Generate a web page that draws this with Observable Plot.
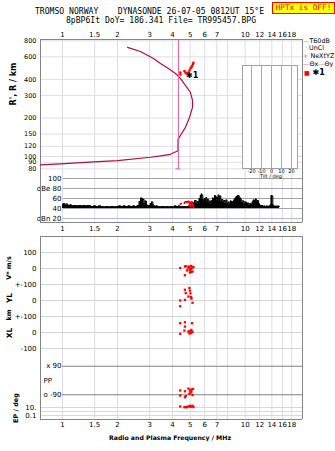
<!DOCTYPE html>
<html><head><meta charset="utf-8">
<script src="https://cdn.jsdelivr.net/npm/d3@7"></script>
<script src="https://cdn.jsdelivr.net/npm/@observablehq/plot@0.6"></script>
<style>
html,body{margin:0;padding:0;background:#fff;}
#root{position:relative;width:335px;height:451px;overflow:hidden;background:#fff;font-family:"DejaVu Sans",sans-serif;color:#000;}
.abs{position:absolute;white-space:nowrap;}
.rot{position:absolute;white-space:nowrap;transform:translate(-50%,-50%) rotate(-90deg);}
svg{display:block;}
</style></head><body>
<div id="root">
  <div class="abs" style="left:35px;top:6px;font:8.1px 'DejaVu Sans Mono',monospace;">TROMSO NORWAY&nbsp;&nbsp;&nbsp;&nbsp;DYNASONDE 26-07-05 0812UT 15°E</div>
  <div class="abs" style="left:66px;top:15px;font:8.1px 'DejaVu Sans Mono',monospace;">8pBP6It DoY= 186.341 File= TR995457.BPG</div>
  <div class="abs" style="left:272px;top:2px;width:61px;height:10px;background:#ffff00;border:1px solid #ff0000;color:#ff0000;font:7.7px 'DejaVu Sans Mono',monospace;line-height:10px;text-align:center;">HPTx is OFF!</div>
  <div id="top" class="abs" style="left:0;top:0"></div>
  <div id="db" class="abs" style="left:0;top:172px"></div>
  <div id="low" class="abs" style="left:0;top:234px"></div>
  <div id="inset" class="abs" style="left:0;top:0"></div>
  <div id="legend"></div>
  <div id="labels"></div>
</div>
<script>
// ---------- data ----------
const freqTicks = [1, 1.5, 2, 3, 4, 5, 6, 7, 8, 10, 12, 14, 16, 18];
const rangeTicks = [80, 90, 100, 120, 150, 200, 300, 400, 600, 800];

// model profile trace (frequency MHz, range km)
const profF = [2.27, 2.67, 3.15, 3.44, 3.80, 4.155, 4.42, 4.71, 5.02, 5.15, 5.15, 4.96, 4.71, 4.42, 4.29, 4.29, 3.90, 3.44, 3.03, 2.0, 1.48, 0.975, 0.758];
const profR = [711, 661, 583, 533, 487, 445, 407, 359, 316, 274, 242, 202, 169, 146, 136, 111, 104, 101, 98.7, 93, 90.9, 87.7, 85.9];

// echoes of class *1
const echoF = [4.42, 4.42, 4.65, 4.71, 4.77, 4.83, 4.90, 4.96, 5.02, 5.08, 5.12, 5.18, 5.21];
const echoR = [453, 437, 465, 453, 445, 445, 453, 470, 487, 497, 510, 527, 540];

// NeXtYZ marker
const markF = 4.31;
const markR = [820, 80];

// amplitude trace (dB)
const dbF = [1.00,1.02,1.04,1.06,1.08,1.11,1.14,1.17,1.20,1.24,1.28,1.32,1.36,1.40,1.45,1.50,1.55,1.60,1.65,1.70,1.76,1.82,1.88,1.94,2.00,2.06,2.12,2.18,2.25,2.32,2.39,2.46,2.53,2.60,2.66,2.70,2.74,2.78,2.82,2.86,2.90,2.95,3.00,3.05,3.10,3.15,3.20,3.28,3.36,3.45,3.55,3.65,3.75,3.85,3.95,4.05,4.15,4.25,4.35,4.45,4.55,4.65,4.75,4.85,4.95,5.05,5.15,5.25,5.35,5.45,5.55,5.65,5.72,5.78,5.84,5.90,5.96,6.02,6.08,6.14,6.20,6.28,6.36,6.44,6.52,6.60,6.68,6.76,6.84,6.92,7.00,7.08,7.16,7.24,7.32,7.40,7.50,7.60,7.70,7.80,7.90,8.00,8.12,8.24,8.36,8.48,8.60,8.72,8.84,8.96,9.08,9.20,9.32,9.44,9.56,9.68,9.80,9.95,10.1,10.25,10.4,10.55,10.7,10.85,11.0,11.15,11.3,11.45,11.6,11.75,11.9,12.05,12.2,12.4,12.6,12.8,13.0,13.2,13.4,13.6,13.8,13.95,14.1,14.25,14.4,14.6,14.8,15.0,15.2,15.4];
const dbV = [48,50,47,49,46,47,45,46,45,46,45,46,45,46,44,45,44,45,44,43,44,43,44,43,44,45,44,45,44,45,44,45,44,46,54,61,60,58,50,55,47,45,46,50,53,47,44,45,44,43,44,43,44,43,44,43,45,44,45,44,43,44,43,44,45,44,47,52,56,50,54,60,66,69,66,58,54,60,55,62,52,58,51,55,48,56,61,58,66,59,63,55,67,60,65,54,58,52,56,50,57,49,53,47,55,51,54,57,60,63,65,66,63,60,57,52,55,49,53,47,51,46,50,48,53,57,55,59,52,56,50,47,45,46,44,45,44,45,43,45,47,66,65,47,45,44,45,44,45,44];
const dbFloor = 40;
const dbRedF = [4.42, 4.47, 4.65, 4.70, 4.80, 4.90, 4.95, 4.98, 5.02, 5.06, 5.12, 5.18, 5.22];
const dbRedV = [49, 50, 51, 53, 53, 54, 53, 47, 44, 52, 53, 46, 43];
const dbRedSeg = [0, 0, 1, 1, 1, 1, 1, 1, 1, 1, 1, 1, 1];
const dbTicks = [100, 80, 60, 40, 20];
const dbTickText = ["100", "dBe 80", "60", "40", "dBn 20"];

// lower panel values, each in its own units
const vF = [4.41, 4.68, 4.68, 4.80, 4.89, 4.89, 4.98, 4.98, 5.06, 5.06, 5.15, 5.15, 4.98, 5.06, 4.73, 5.21];
const vV = [3, 12, -42, -12, 12, 0, 9, -12, -3, 16, 6, -19, -25, -22, 15, 10];
const ylF = [4.68, 4.73, 4.98, 4.89, 5.06, 5.15, 4.41, 4.41, 4.68, 5.02, 5.08, 4.95];
const ylV = [67, 46, 62, 25, 21, -14, 0, -36, 4, 44, 12, 78];
const xlF = [4.41, 4.68, 5.12, 4.68, 4.65, 4.41, 4.89, 4.98, 5.06, 5.15, 4.95, 5.08, 5.02];
const xlV = [58, 64, 58, 37, 12, -8, 6, 9, 0, 3, -6, 16, -4];
const ppF = [4.41, 4.68, 4.89, 4.98, 5.06, 5.18, 5.02, 4.95, 5.15, 4.41, 4.68, 4.73, 5.08];
const ppV = [-63, -68, -51, -63, -57, -54, -76, -85, -92, -95, -106, -98, -70];
const epF = [4.41, 4.65, 4.73, 4.89, 4.98, 5.06, 5.15, 5.21, 4.80, 5.02];
const epV = [18, 12, 13, 18, 26, 18, 28, 13, 12, 15];

const vTicks = [100, 0, -100];       // V* m/s
const ylTicks = [0, -100];           // YL km (shown ±100 above and below)
const xlTicks = [0, -100];
const ppTicks = [90, -90];
const epTicks = [10, 1, 0.1];

const tiltTicks = [-20, -10, 0, 10, 20];

// ---------- layout ----------
const W = 335, ML = 40, MR = 33;
const xDom = [0.758, 20.6];
const FONT = "DejaVu Sans, sans-serif";
const gridV = "#dcdcec", gridH = "#dedede", frameC = "#858585";
const xScale = (axis, pad) => ({type: "log", domain: xDom, axis, ticks: freqTicks, tickFormat: d => String(d), tickSize: 0, tickPadding: pad, label: null});

// lower panel lanes are stacked on one vertical axis
const laneV = v => v;
const laneYL = v => v - 200;
const laneXL = v => v - 400;
const lanePP = v => -700 + v * 0.99;
const laneEP = v => -893.75 + 25 * Math.log10(v);

// ---------- top panel ----------
const prof = profF.map((f, i) => ({f, r: profR[i]}));
const echoes = echoF.map((f, i) => ({f, r: echoR[i]}));
const rDom = [75, 820];
const topPlot = Plot.plot({
  width: W, height: 172, marginTop: 39, marginBottom: 0, marginLeft: ML, marginRight: MR,
  style: {background: "transparent", fontFamily: FONT, fontSize: "7px", color: "#000"},
  x: xScale("top", 3),
  y: {type: "log", domain: rDom, ticks: rangeTicks, tickFormat: d => String(d), tickSize: 0, tickPadding: 4, label: null},
  marks: [
    Plot.ruleX(freqTicks, {stroke: gridV}),
    Plot.ruleY(rangeTicks, {stroke: gridH}),
    Plot.ruleX(xDom, {stroke: frameC}),
    Plot.ruleY([rDom[1]], {stroke: frameC}),
    Plot.line(prof, {x: "f", y: "r", stroke: "#b0103c", strokeWidth: 1.2}),
    Plot.ruleX([markF], {y1: () => markR[0], y2: () => markR[1], stroke: "#e8559a"}),
    Plot.ruleY(markR, {x1: () => markF / 1.03, x2: () => markF * 1.03, stroke: "#e8559a"}),
    Plot.dot(echoes, {x: "f", y: "r", symbol: "square", r: 1.3, fill: "#ff0000", stroke: "none"}),
    Plot.text(["✱1"], {x: () => 4.75, y: () => 430, text: d => d, textAnchor: "start", fontSize: 8, fontWeight: "bold", fill: "#000"})
  ]
});
topPlot.querySelectorAll('g[aria-label="y-axis tick label"] text, g[aria-label="y-axis"] text').forEach(t => t.setAttribute("font-size", "6.5"));
document.getElementById("top").appendChild(topPlot);

// ---------- dB panel ----------
const dbData = dbF.map((f, i) => ({f, v: dbV[i]}));
const dbRed = dbRedF.map((f, i) => ({f, v: dbRedV[i], s: dbRedSeg[i]}));
const dbDom = [12, 112];
const dbPlot = Plot.plot({
  width: W, height: 62, marginTop: 0, marginBottom: 12, marginLeft: ML, marginRight: MR,
  style: {background: "transparent", fontFamily: FONT, fontSize: "7px", color: "#000"},
  x: xScale("bottom", 4),
  y: {domain: dbDom, axis: null},
  marks: [
    Plot.ruleX(freqTicks, {stroke: gridV}),
    Plot.ruleY(dbTicks, {x1: () => 1.01, x2: () => xDom[1], stroke: d => d === 20 ? "#b8b8e4" : "#a4a4a4"}),
    Plot.areaY(dbData, {x: "f", y1: () => dbFloor, y2: "v", curve: "step", fill: "#000"}),
    Plot.line(dbData, {x: "f", y: "v", curve: "step", stroke: "#000", strokeWidth: 1}),
    Plot.line(dbRed, {x: "f", y: "v", z: "s", stroke: "#ff0000", strokeWidth: 2}),
    Plot.text(dbTicks, {x: () => 1.0, y: d => d, text: (d, i) => dbTickText[i], textAnchor: "end", dx: -1, fontSize: 7}),
    Plot.ruleX(xDom, {stroke: frameC}),
    Plot.ruleY([dbDom[0]], {stroke: frameC})
  ]
});
document.getElementById("db").appendChild(dbPlot);

// ---------- lower panel ----------
const uDom = [-943.75, 200];
const lightLines = [...vTicks.map(laneV), ...ylTicks.map(laneYL), ...xlTicks.map(laneXL).filter(u => u !== -300)];
const epLines = epTicks.map(laneEP);
const uTickVals = [...lightLines, laneEP(10), laneEP(0.1)];
const uTickText = new Map([[100, "100"], [0, "0"], [-100, "+-100"], [-200, "0"], [-300, "+-100"], [-400, "0"], [-500, "-100"], [laneEP(10), "10."], [laneEP(0.1), "0.1"]]);
const pts = [
  ...vF.map((f, i) => ({f, u: laneV(vV[i])})),
  ...ylF.map((f, i) => ({f, u: laneYL(ylV[i])})),
  ...xlF.map((f, i) => ({f, u: laneXL(xlV[i])})),
  ...ppF.map((f, i) => ({f, u: lanePP(ppV[i])})),
  ...epF.map((f, i) => ({f, u: laneEP(epV[i])}))
];
const lowPlot = Plot.plot({
  width: W, height: 217, marginTop: 2, marginBottom: 32, marginLeft: ML, marginRight: MR,
  style: {background: "transparent", fontFamily: FONT, fontSize: "7px", color: "#000"},
  x: xScale("bottom", 3),
  y: {domain: uDom, ticks: uTickVals, tickFormat: d => uTickText.get(d), tickSize: 0, tickPadding: 4, label: null},
  marks: [
    Plot.ruleX(freqTicks, {stroke: gridV}),
    Plot.ruleY(lightLines, {stroke: "#d4d4d4"}),
    Plot.ruleY(epLines, {stroke: "#d8d8d8"}),
    Plot.ruleY(ppTicks.map(lanePP), {x1: () => 1.0, x2: () => xDom[1], stroke: "#808080"}),
    Plot.text(ppTicks, {x: () => 1.0, y: d => lanePP(d), text: d => d > 0 ? "x 90" : "o -90", textAnchor: "end", dx: -1}),
    Plot.text(["PP"], {x: () => xDom[0], y: () => lanePP(0), text: d => d, textAnchor: "start", dx: 3}),
    Plot.dot(pts, {x: "f", y: "u", symbol: "square", r: 1.3, fill: "#ff0000", stroke: "none"}),
    Plot.ruleX(xDom, {stroke: frameC}),
    Plot.ruleY(uDom, {stroke: frameC})
  ]
});
document.getElementById("low").appendChild(lowPlot);

// ---------- tilt inset ----------
const insetPlot = Plot.plot({
  width: W, height: 180, marginTop: 65, marginBottom: 12, marginLeft: 242, marginRight: 38,
  style: {background: "transparent", fontFamily: FONT, fontSize: "5px", color: "#000"},
  x: {domain: [-29, 26], ticks: tiltTicks, tickFormat: d => String(d), tickSize: 0, tickPadding: 1, label: null},
  y: {domain: [0, 1], axis: null},
  marks: [
    Plot.frame({fill: "#fff", stroke: "#a0a0b4"}),
    Plot.ruleX(tiltTicks, {stroke: "#a8a8c0"})
  ]
});
document.getElementById("inset").appendChild(insetPlot);

// ---------- legend & labels ----------
const legend = document.getElementById("legend");
const legendItems = [
  {top: 38, html: '<span style="color:#999">—</span>T60dB'},
  {top: 45, html: '<span style="color:#444">&nbsp;·&nbsp;</span>UnCl'},
  {top: 53, html: '<span style="color:#e8559a">+</span>&nbsp;NeXtYZ'},
  {top: 61, html: '<span style="color:#e87070">—</span>Θx<span style="color:#9999cc">—</span>Θy'}
];
for (const it of legendItems) {
  const d = document.createElement("div");
  d.className = "abs";
  d.style.cssText = `left:303px;top:${it.top}px;font-size:6.4px;line-height:6px;`;
  d.innerHTML = it.html;
  legend.appendChild(d);
}
const l5 = document.createElement("div");
l5.className = "abs";
l5.style.cssText = "left:304px;top:68px;font-size:8px;font-weight:bold;line-height:10px;";
l5.innerHTML = '<span style="color:#ff0000;font-size:6px">■</span> ✱1';
legend.appendChild(l5);

const labels = document.getElementById("labels");
const rotLabels = [
  {x: 13, y: 84, t: "R', R / km", s: 8},
  {x: 9, y: 268, t: "V* m/s", s: 6.5},
  {x: 9, y: 298, t: "YL", s: 7.5},
  {x: 9, y: 315, t: "km", s: 6.5},
  {x: 9, y: 333, t: "XL", s: 7.5},
  {x: 16, y: 408, t: "EP / deg", s: 6.5}
];
for (const l of rotLabels) {
  const d = document.createElement("div");
  d.className = "rot";
  d.style.cssText += `left:${l.x}px;top:${l.y}px;font-size:${l.s}px;font-weight:bold;`;
  d.textContent = l.t;
  labels.appendChild(d);
}
const xl = document.createElement("div");
xl.className = "abs";
xl.style.cssText = "left:0;width:340px;text-align:center;top:434px;font-size:6.2px;font-weight:bold;";
xl.textContent = "Radio and Plasma Frequency / MHz";
labels.appendChild(xl);
const tl = document.createElement("div");
tl.className = "abs";
tl.style.cssText = "left:242px;width:58px;text-align:center;top:174px;font-size:5px;line-height:5px;";
tl.textContent = "Tilt / deg";
labels.appendChild(tl);
</script>
</body></html>
